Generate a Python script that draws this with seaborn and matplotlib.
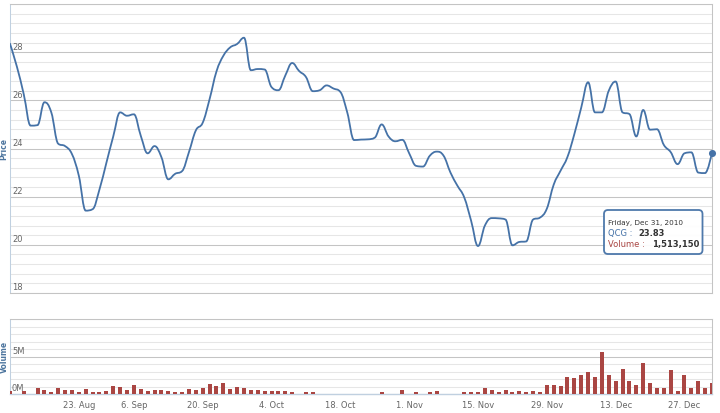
import numpy as np
import pandas as pd
import matplotlib
matplotlib.use("Agg")
import matplotlib.pyplot as plt
from matplotlib.path import Path
from matplotlib.patches import PathPatch, FancyBboxPatch
from matplotlib.transforms import Affine2D, offset_copy
import seaborn as sns

# trading calendar (ordinal axis, weekends + holidays skipped)
first_day = "2010-08-09"
last_day = "2010-12-31"
holidays = ["2010-09-02", "2010-09-03"]
tick_dates = ["2010-08-23", "2010-09-06", "2010-09-20", "2010-10-04", "2010-10-18",
              "2010-11-01", "2010-11-15", "2010-11-29", "2010-12-13", "2010-12-27"]

ticker = "QCG"

# daily close
close = [28.35, 27.4, 26.25, 24.95, 24.97, 25.92, 25.5, 24.2, 24.1, 23.77,
         22.87, 21.42, 21.48, 22.3, 23.4, 24.5, 25.5, 25.36, 25.42, 24.53,
         23.8, 24.1, 23.64, 22.72, 22.95, 23.06, 23.85, 24.75, 25.07, 26.05,
         27.2, 27.85, 28.2, 28.34, 28.6, 27.25, 27.3, 27.28, 26.55, 26.42,
         27.03, 27.55, 27.22, 26.97, 26.38, 26.42, 26.62, 26.49, 26.35, 25.5,
         24.35, 24.37, 24.38, 24.45, 25.0, 24.5, 24.3, 24.36, 23.8, 23.28,
         23.25, 23.7, 23.87, 23.7, 23.0, 22.46, 21.97, 21.0, 19.95, 20.8,
         21.11, 21.1, 21.05, 19.98, 20.12, 20.14, 21.05, 21.13, 21.5, 22.5,
         23.08, 23.65, 24.6, 25.7, 26.75, 25.5, 25.5, 26.4, 26.78, 25.5,
         25.43, 24.5, 25.6, 24.78, 24.8, 24.15, 23.85, 23.35, 23.8, 23.84,
         23.0, 22.98, 23.83]

# daily volume, millions of shares
volume_m = [0.45, 0.0, 0.36, 0.0, 0.76, 0.58, 0.27, 0.76, 0.54, 0.54,
            0.27, 0.67, 0.27, 0.27, 0.40, 1.03, 0.94, 0.49, 1.17, 0.67,
            0.40, 0.49, 0.54, 0.36, 0.27, 0.27, 0.67, 0.58, 0.85, 1.35,
            1.08, 1.48, 0.67, 0.94, 0.85, 0.49, 0.49, 0.45, 0.45, 0.36,
            0.36, 0.27, 0.0, 0.27, 0.27, 0.0, 0.0, 0.0, 0.0, 0.0,
            0.0, 0.0, 0.0, 0.0, 0.27, 0.0, 0.0, 0.49, 0.0, 0.27,
            0.0, 0.27, 0.40, 0.0, 0.0, 0.0, 0.27, 0.27, 0.27, 0.85,
            0.49, 0.27, 0.49, 0.27, 0.36, 0.27, 0.36, 0.27, 1.26, 1.17,
            1.08, 2.29, 2.15, 2.56, 2.91, 2.29, 5.60, 2.56, 1.70, 3.32,
            1.79, 1.26, 4.17, 1.48, 0.76, 0.76, 3.23, 0.40, 2.47, 0.85,
            1.70, 0.76, 1.51315]

price_labels = [18, 20, 22, 24, 26, 28]
volume_labels = [0, 5]

LINE_COLOR = "#4572A7"
BAR_COLOR = "#AA4643"
TITLE_COLOR = "#4d759e"
LABEL_COLOR = "#666666"
MAJOR_GRID = "#C4C4C4"
MINOR_GRID = "#E6E6E6"
AXIS_LINE = "#C0D0E0"

sns.set_theme(style="white")
plt.rcParams["font.family"] = ["DejaVu Sans"]


# Highcharts-like spline: cubic bezier through every point, no false extremes
def SplinePath(xs, ys, smoothing=1.5):
    denom = smoothing + 1
    n = len(xs)
    left = [None] * n
    right = [None] * n
    for i in range(n):
        x, y = xs[i], ys[i]
        if 0 < i < n - 1:
            lx, ly = xs[i - 1], ys[i - 1]
            nx, ny = xs[i + 1], ys[i + 1]
            lcx, lcy = (smoothing * x + lx) / denom, (smoothing * y + ly) / denom
            rcx, rcy = (smoothing * x + nx) / denom, (smoothing * y + ny) / denom
            corr = (rcy - lcy) * (rcx - x) / (rcx - lcx) + y - rcy
            lcy += corr
            rcy += corr
            if lcy > ly and lcy > y:
                lcy = max(ly, y); rcy = 2 * y - lcy
            elif lcy < ly and lcy < y:
                lcy = min(ly, y); rcy = 2 * y - lcy
            if rcy > ny and rcy > y:
                rcy = max(ny, y); lcy = 2 * y - rcy
            elif rcy < ny and rcy < y:
                rcy = min(ny, y); lcy = 2 * y - rcy
            left[i], right[i] = (lcx, lcy), (rcx, rcy)
        else:
            left[i] = right[i] = (x, y)
    verts = [(xs[0], ys[0])]
    codes = [Path.MOVETO]
    for i in range(1, n):
        verts += [right[i - 1], left[i], (xs[i], ys[i])]
        codes += [Path.CURVE4] * 3
    return Path(verts, codes)


days = pd.bdate_range(first_day, last_day)
days = days[~days.isin(pd.to_datetime(holidays))]
idx = np.arange(len(days))
assert len(idx) == len(close) == len(volume_m)

W, H = 720, 414
fig = plt.figure(figsize=(W / 100, H / 100), dpi=100)
pxT = Affine2D().scale(1, -1).translate(0, H).scale(1 / 100) + fig.dpi_scale_trans


def Box(left, top, right, bottom):
    return [left / W, 1 - bottom / H, (right - left) / W, (bottom - top) / H]


axPrice = fig.add_axes(Box(10, 5, 712, 294))
axVol = fig.add_axes(Box(10, 320, 712, 395))

# ---- price panel
axPrice.add_patch(PathPatch(SplinePath(idx, close), fill=False, edgecolor=LINE_COLOR,
                            lw=1.3, joinstyle="round", capstyle="round", zorder=3))
sns.scatterplot(x=[idx[-1]], y=[close[-1]], ax=axPrice, color=LINE_COLOR, s=26,
                linewidth=0, zorder=4, clip_on=False)
axPrice.set_xlim(0, len(idx) - 1)
axPrice.set_ylim(18, 30)
axPrice.set_xticks([])
axPrice.set_yticks(np.arange(18, 30.01, 2))
axPrice.set_yticks(np.arange(18, 30.01, 0.4), minor=True)

# ---- volume panel
sns.barplot(x=idx, y=volume_m, ax=axVol, color=BAR_COLOR, saturation=1, width=0.58,
            linewidth=0, errorbar=None, zorder=3)
axVol.set(xlabel="", ylabel="")
axVol.set_xlim(0, len(idx) - 1)
axVol.set_ylim(0, 10)
tick_pos = [int(np.where(days == pd.Timestamp(d))[0][0]) for d in tick_dates]
axVol.set_xticks(tick_pos, [f"{pd.Timestamp(d).day}. {pd.Timestamp(d):%b}" for d in tick_dates])
axVol.set_yticks([0, 5, 10])
axVol.set_yticks(np.arange(0, 10.01, 1), minor=True)
axVol.tick_params(axis="x", which="major", length=3, width=0.8, color=AXIS_LINE,
                  labelsize=6, labelcolor=LABEL_COLOR, pad=1.5, direction="out")
axVol.tick_params(axis="x", which="minor", length=0)

for ax in (axPrice, axVol):
    ax.set_axisbelow(True)
    ax.grid(False)
    ax.grid(which="minor", axis="y", color=MINOR_GRID, lw=0.75)
    ax.grid(which="major", axis="y", color=MAJOR_GRID, lw=0.75)
    ax.tick_params(axis="y", which="both", length=0, labelleft=False)
    for side in ("top", "right"):
        ax.spines[side].set_color(MAJOR_GRID)
        ax.spines[side].set_linewidth(0.75)
    ax.spines["left"].set_color(AXIS_LINE)
    ax.spines["left"].set_linewidth(0.75)
axPrice.spines["bottom"].set_color(MAJOR_GRID)
axPrice.spines["bottom"].set_linewidth(0.75)
axVol.spines["bottom"].set_color(AXIS_LINE)
axVol.spines["bottom"].set_linewidth(1.0)

# y labels sit inside the plot, just above their grid line
for ax, values, fmt in ((axPrice, price_labels, "{}"), (axVol, volume_labels, "{}M")):
    tr = offset_copy(ax.get_yaxis_transform(), fig=fig, x=2, y=1.5, units="dots")
    for v in values:
        ax.text(0, v, fmt.format(v), transform=tr, ha="left", va="bottom",
                fontsize=6, color=LABEL_COLOR)

# axis titles squeezed into the narrow left margin
fig.text(4, 149.5, "Price", transform=pxT, rotation=90, ha="center", va="center",
         fontsize=5.5, fontweight="bold", color=TITLE_COLOR)
fig.text(4, 357, "Volume", transform=pxT, rotation=90, ha="center", va="center",
         fontsize=5.5, fontweight="bold", color=TITLE_COLOR)

# tooltip for the last point
fig.add_artist(FancyBboxPatch((604, 211), 98.5, 44, boxstyle="round,pad=0,rounding_size=4",
                              transform=pxT, facecolor="white", edgecolor=LINE_COLOR,
                              lw=1.3, alpha=0.95, zorder=5))
last_day_ts = days[-1]
fig.text(608, 222.5, f"{last_day_ts:%A}, {last_day_ts:%b} {last_day_ts.day}, {last_day_ts.year}",
         transform=pxT, ha="left", va="center", fontsize=5.2, color="#333333", zorder=6)
fig.text(608, 233.5, f"{ticker} :", transform=pxT, ha="left", va="center",
         fontsize=6, color=LINE_COLOR, zorder=6)
fig.text(638, 233.5, f"{close[-1]:.2f}", transform=pxT, ha="left", va="center",
         fontsize=6, fontweight="bold", color="#333333", zorder=6)
fig.text(608, 244.5, "Volume :", transform=pxT, ha="left", va="center",
         fontsize=6, color=BAR_COLOR, zorder=6)
fig.text(652, 244.5, f"{round(volume_m[-1] * 1e6):,}", transform=pxT, ha="left", va="center",
         fontsize=6, fontweight="bold", color="#333333", zorder=6)

fig.savefig("out.png", dpi=100)
